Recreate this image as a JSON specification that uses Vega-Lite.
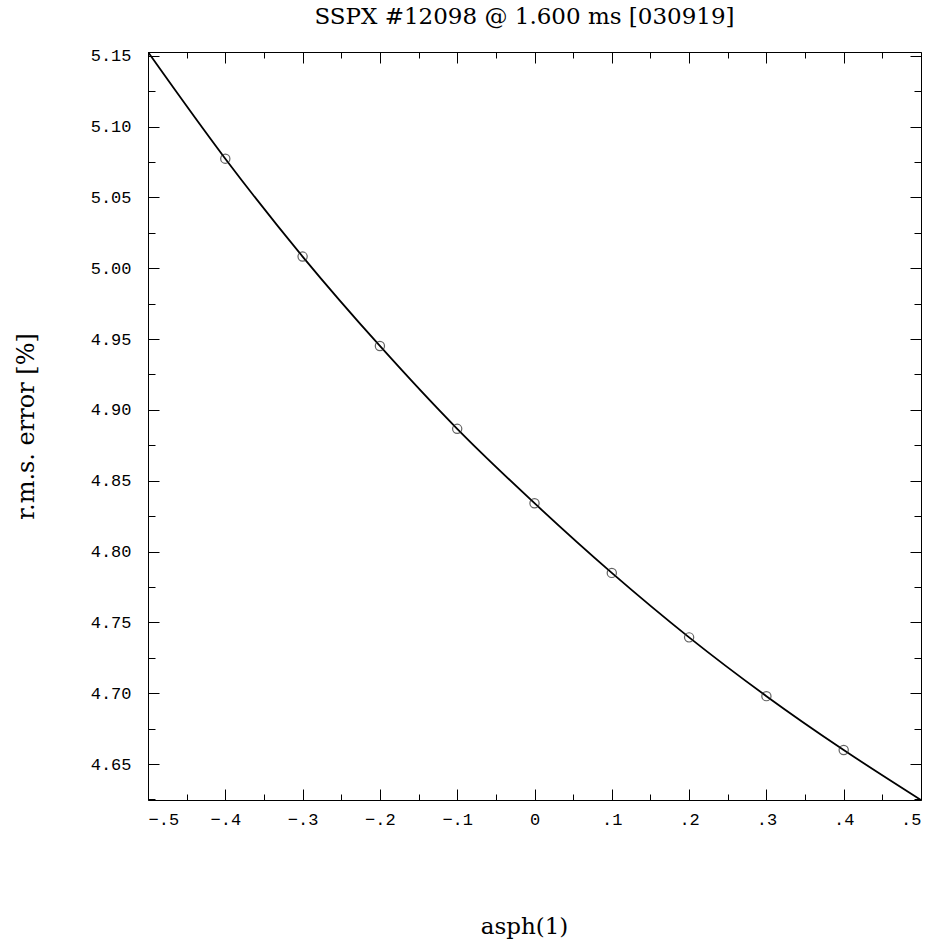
{
  "$schema": "https://vega.github.io/schema/vega-lite/v6.json",
  "autosize": "none",
  "width": 773,
  "height": 748,
  "padding": {"left": 148, "top": 52, "right": 14, "bottom": 142},
  "background": "white",
  "title": {
    "text": "SSPX #12098 @ 1.600 ms [030919]",
    "font": "DejaVu Serif",
    "fontSize": 23,
    "fontWeight": "normal",
    "color": "black",
    "anchor": "middle",
    "baseline": "bottom",
    "offset": -5,
    "dx": -10
  },
  "config": {
    "view": {"stroke": null},
    "axis": {
      "grid": false,
      "domainColor": "black",
      "domainWidth": 1,
      "tickColor": "black",
      "tickWidth": 1,
      "labelFont": "Liberation Mono",
      "labelFontSize": 17,
      "labelColor": "black",
      "titleFont": "DejaVu Serif",
      "titleFontSize": 23,
      "titleFontWeight": "normal",
      "titleColor": "black"
    }
  },
  "data": {
    "values": [
      {"asph": -0.5, "rms": 5.1526, "kind": "curve"},
      {"asph": -0.4, "rms": 5.0773, "kind": "pt"},
      {"asph": -0.3, "rms": 5.0082, "kind": "pt"},
      {"asph": -0.2, "rms": 4.9451, "kind": "pt"},
      {"asph": -0.1, "rms": 4.8866, "kind": "pt"},
      {"asph": 0.0, "rms": 4.8341, "kind": "pt"},
      {"asph": 0.1, "rms": 4.7849, "kind": "pt"},
      {"asph": 0.2, "rms": 4.7394, "kind": "pt"},
      {"asph": 0.3, "rms": 4.6979, "kind": "pt"},
      {"asph": 0.4, "rms": 4.6599, "kind": "pt"},
      {"asph": 0.5, "rms": 4.6246, "kind": "curve"}
    ]
  },
  "layer": [
    {
      "mark": {"type": "line", "color": "black", "strokeWidth": 1.8, "interpolate": "monotone", "clip": true},
      "encoding": {
        "x": {
          "field": "asph", "type": "quantitative",
          "scale": {"domain": [-0.5, 0.5], "nice": false, "zero": false},
          "axis": {
            "orient": "bottom",
            "title": "asph(1)",
            "titlePadding": 88,
            "titleX": 376,
            "titleAlign": "center",
            "values": [-0.5, -0.45, -0.4, -0.35, -0.3, -0.25, -0.2, -0.15, -0.1, -0.05, 0, 0.05, 0.1, 0.15, 0.2, 0.25, 0.3, 0.35, 0.4, 0.45, 0.5],
            "tickSize": {"condition": {"test": "abs(datum.value*10 - round(datum.value*10)) < 0.001", "value": -11}, "value": -6},
            "labelPadding": 22,
            "labelExpr": "abs(datum.value*10 - round(datum.value*10)) > 0.001 ? '' : (abs(datum.value) < 0.001 ? '0' : replace(format(datum.value, '.1f'), '0.', '.'))"
          }
        },
        "y": {
          "field": "rms", "type": "quantitative",
          "scale": {"domain": [4.6246, 5.1526], "nice": false, "zero": false},
          "axis": {
            "orient": "left",
            "title": "r.m.s. error [%]",
            "titlePadding": 52,
            "titleFontSize": 24,
            "values": [4.625, 4.65, 4.675, 4.7, 4.725, 4.75, 4.775, 4.8, 4.825, 4.85, 4.875, 4.9, 4.925, 4.95, 4.975, 5.0, 5.025, 5.05, 5.075, 5.1, 5.125, 5.15],
            "tickSize": {"condition": {"test": "abs(datum.value*20 - round(datum.value*20)) < 0.001", "value": -11}, "value": -7},
            "labelPadding": 28,
            "labelExpr": "abs(datum.value*20 - round(datum.value*20)) > 0.001 ? '' : format(datum.value, '.2f')"
          }
        }
      }
    },
    {
      "transform": [{"filter": "datum.kind == 'pt'"}],
      "mark": {"type": "point", "shape": "circle", "filled": false, "color": "#222222", "strokeWidth": 1.2, "size": 85},
      "encoding": {
        "x": {
          "field": "asph", "type": "quantitative",
          "scale": {"domain": [-0.5, 0.5], "nice": false, "zero": false},
          "axis": {
            "orient": "top",
            "title": null,
            "labels": false,
            "values": [-0.5, -0.45, -0.4, -0.35, -0.3, -0.25, -0.2, -0.15, -0.1, -0.05, 0, 0.05, 0.1, 0.15, 0.2, 0.25, 0.3, 0.35, 0.4, 0.45, 0.5],
            "tickSize": {"condition": {"test": "abs(datum.value*10 - round(datum.value*10)) < 0.001", "value": -11}, "value": -6}
          }
        },
        "y": {
          "field": "rms", "type": "quantitative",
          "scale": {"domain": [4.6246, 5.1526], "nice": false, "zero": false},
          "axis": {
            "orient": "right",
            "title": null,
            "labels": false,
            "values": [4.625, 4.65, 4.675, 4.7, 4.725, 4.75, 4.775, 4.8, 4.825, 4.85, 4.875, 4.9, 4.925, 4.95, 4.975, 5.0, 5.025, 5.05, 5.075, 5.1, 5.125, 5.15],
            "tickSize": {"condition": {"test": "abs(datum.value*20 - round(datum.value*20)) < 0.001", "value": -11}, "value": -7}
          }
        }
      }
    }
  ],
  "resolve": {"scale": {"x": "independent", "y": "independent"}}
}
